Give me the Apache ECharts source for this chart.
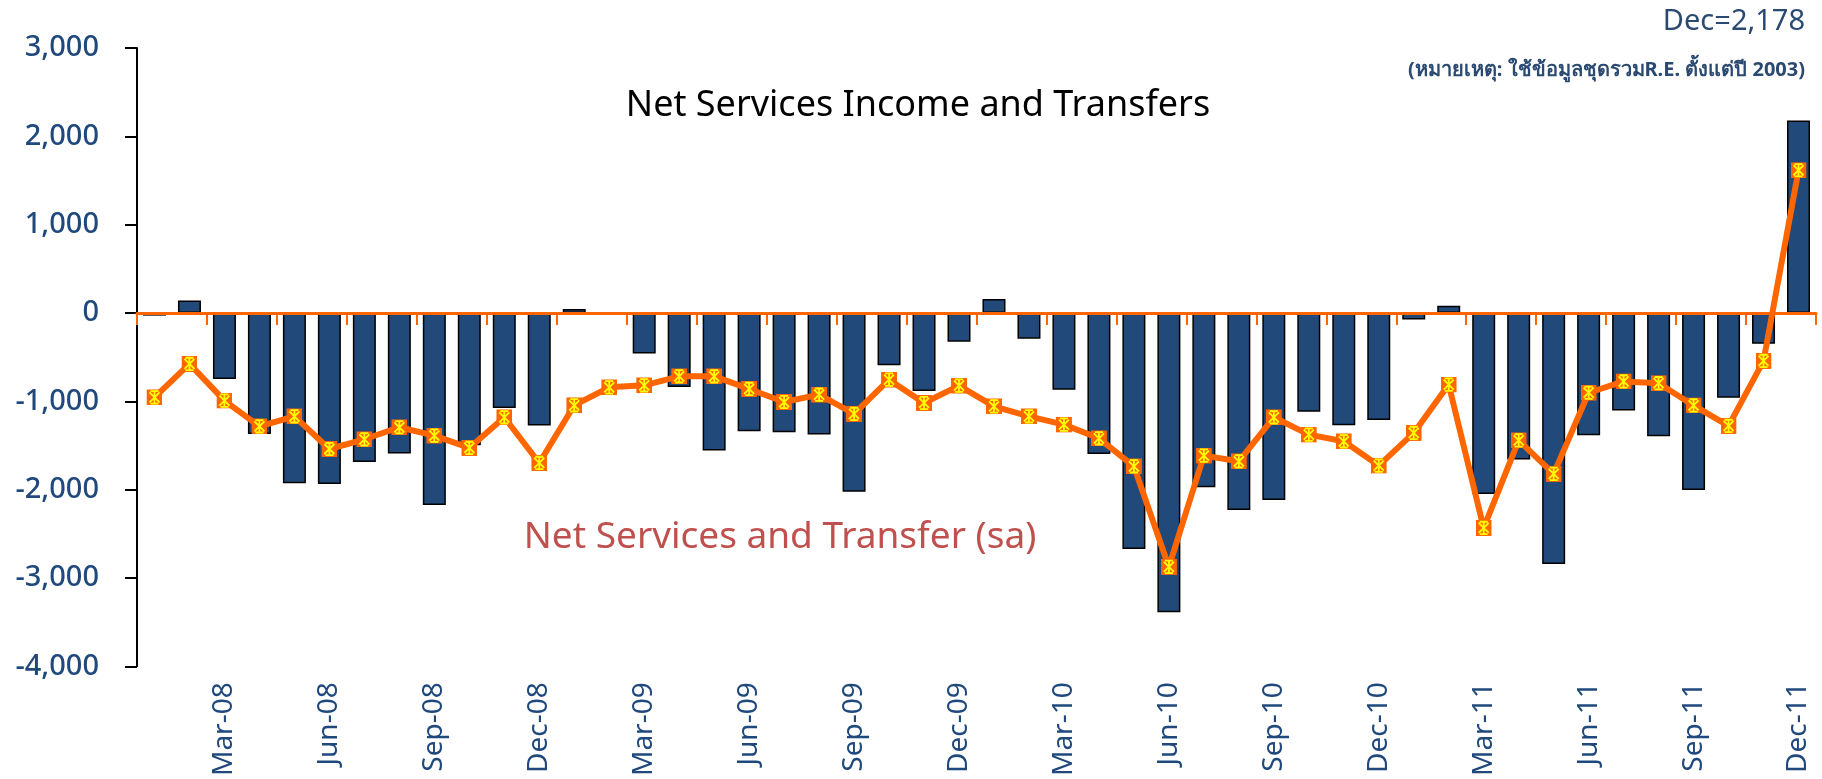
<!DOCTYPE html>
<html>
<head>
<meta charset="utf-8">
<script src="https://cdn.jsdelivr.net/npm/echarts@6/dist/echarts.min.js"></script>
<style>
  html, body { margin: 0; padding: 0; background: #fff; }
  #chart01 { width: 1822px; height: 779px; }
</style>
</head>
<body>
<div id="chart01"></div>
<script>
// 月份和年份 -> 类目
var months = ["Jan", "Feb", "Mar", "Apr", "May", "Jun", "Jul", "Aug", "Sep", "Oct", "Nov", "Dec"];
var years = ["08", "09", "10", "11"];
var categories = [];
years.forEach(function (y) {
    months.forEach(function (m) { categories.push(m + "-" + y); });
});

// 柱状：Net Services Income and Transfers
var netServices = [-30, 140, -747, -1370, -1928, -1936, -1687, -1592, -2174, -1498, -1075, -1275,
    45, -15, -460, -838, -1558, -1340, -1351, -1377, -2023, -592, -883, -325,
    158, -291, -868, -1596, -2672, -3389, -1974, -2230, -2117, -1117, -1272, -1211,
    -75, 83, -2049, -1660, -2842, -1384, -1105, -1395, -2004, -961, -349, 2178];

// 折线：Net Services and Transfer (sa)
var netServicesSa = [-955, -577, -992, -1283, -1170, -1540, -1430, -1294, -1389, -1528, -1181, -1698,
    -1045, -842, -819, -717, -717, -860, -1008, -925, -1143, -755, -1019, -823,
    -1057, -1170, -1264, -1419, -1736, -2875, -1615, -1679, -1181, -1377, -1453, -1728,
    -1358, -811, -2434, -1442, -1822, -903, -775, -795, -1047, -1279, -543, 1616];

var yTicks = [-4000, -3000, -2000, -1000, 0, 1000, 2000, 3000];

var blue = "#1F497D";
var markerSvg = "<svg xmlns='http://www.w3.org/2000/svg' width='16' height='16'>" +
    "<rect width='16' height='16' fill='#FF6600'/>" +
    "<path d='M3 3L13 13M13 3L3 13M8 1.5V14.5M4 1.8H12M4 14.2H12' stroke='#FFFF00' stroke-width='1.8' fill='none'/>" +
    "</svg>";
var markerSymbol = "image://data:image/svg+xml;charset=utf-8," + encodeURIComponent(markerSvg);

var myChart01 = echarts.init(document.getElementById('chart01'));
var option = {
    animation: false,
    grid: { left: 137, right: 6, top: 48, bottom: 112, containLabel: false },
    xAxis: [
        {
            type: "category",
            data: categories,
            position: "bottom",
            axisLine: { show: false, onZero: false },
            axisTick: { show: false },
            axisLabel: {
                rotate: 90,
                margin: 16,
                interval: function (idx) { return idx % 3 === 2; },
                color: blue,
                fontSize: 28,
                fontFamily: "Noto Sans"
            },
            splitLine: { show: false }
        },
        {
            type: "category",
            data: categories,
            position: "top",
            z: 3,
            axisLine: { show: true, onZero: true, lineStyle: { color: "#FF6600", width: 3 } },
            axisTick: { show: true, inside: true, length: 12, lineStyle: { color: "#FF6600", width: 2 } },
            axisLabel: { show: false },
            splitLine: { show: false }
        }
    ],
    yAxis: [
        {
            type: "value",
            min: yTicks[0],
            max: yTicks[yTicks.length - 1],
            interval: 1000,
            axisLine: { show: true, onZero: false, lineStyle: { color: "#000", width: 2 } },
            axisTick: { show: true, length: 12, lineStyle: { color: "#000", width: 2 } },
            axisLabel: {
                margin: 38,
                color: blue,
                fontSize: 29,
                fontWeight: 500,
                fontFamily: "Noto Sans",
                formatter: function (v) { return v.toLocaleString("en-US"); }
            },
            splitLine: { show: false }
        }
    ],
    series: [
        {
            name: "Net Services Income and Transfers",
            type: "bar",
            xAxisIndex: 0,
            barWidth: 23,
            itemStyle: { color: "#214A7B", borderColor: "#000", borderWidth: 1.5 },
            z: 2,
            data: netServices
        },
        {
            name: "Net Services and Transfer (sa)",
            type: "line",
            xAxisIndex: 0,
            z: 5,
            symbol: markerSymbol,
            symbolSize: 16,
            showAllSymbol: true,
            lineStyle: { color: "#FF6600", width: 6 },
            itemStyle: { color: "#FF6600" },
            data: netServicesSa
        }
    ],
    graphic: [
        {
            type: "text", x: 918, y: 106,
            style: { text: "Net Services Income and Transfers", fill: "#000", font: '36px "Noto Sans"', textAlign: "center", textVerticalAlign: "middle" }
        },
        {
            type: "text", x: 780, y: 537,
            style: { text: "Net Services and Transfer (sa)", fill: "#C0504D", font: '37px "Noto Sans"', textAlign: "center", textVerticalAlign: "middle" }
        },
        {
            type: "text", x: 1805, y: 22,
            style: { text: "Dec=2,178", fill: "#2B4A72", font: '29px "Noto Sans"', textAlign: "right", textVerticalAlign: "middle" }
        },
        {
            type: "text", x: 1805, y: 70,
            style: { text: "(หมายเหตุ: ใช้ข้อมูลชุดรวมR.E. ตั้งแต่ปี 2003)", fill: "#2B4A72", font: 'bold 20px "Noto Sans"', textAlign: "right", textVerticalAlign: "middle" }
        }
    ]
};
myChart01.setOption(option);
</script>
</body>
</html>
